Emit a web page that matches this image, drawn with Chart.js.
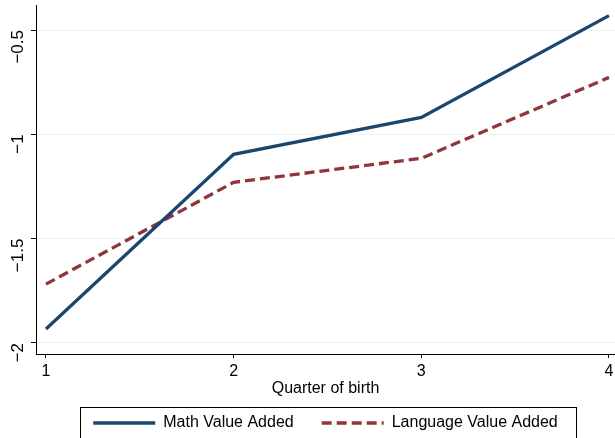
<!DOCTYPE html>
<html>
<head>
<meta charset="utf-8">
<script src="https://cdn.jsdelivr.net/npm/chart.js@4"></script>
<style>
  html, body { margin: 0; padding: 0; background: #fff; }
  #wrap { width: 615px; height: 438px; position: relative; }
</style>
</head>
<body>
<div id="wrap"><canvas id="qob"></canvas></div>
<script>
// quarter of birth on the x axis
const quarters = [1, 2, 3, 4];
const mathVA = [-1.933, -1.096, -0.919, -0.431];
const langVA = [-1.718, -1.230, -1.115, -0.727];
const yTicks = [-2, -1.5, -1, -0.5];

const FONT = 'Liberation Sans, Arial, sans-serif';

function toPoints(ys) {
    return quarters.map((q, i) => ({ x: q, y: ys[i] }));
}

// thin frame around the legend, Stata style
const legendBox = {
    id: 'legendBox',
    afterInit(chart) {
        const lg = chart.legend;
        const fit = lg.fit;
        lg.fit = function () {
            fit.call(this);
            this.height = 51;
        };
    },
    afterDraw(chart) {
        const ctx = chart.ctx;
        ctx.save();
        ctx.strokeStyle = '#000';
        ctx.lineWidth = 1;
        ctx.strokeRect(80.5, 407.5, 496, 40);
        ctx.restore();
    }
};

const config = {
    type: 'line',
    data: {
        datasets: [{
            label: 'Math Value Added',
            data: toPoints(mathVA),
            borderColor: '#1a476f',
            backgroundColor: '#1a476f',
            borderWidth: 3.3,
            pointRadius: 0
        }, {
            label: 'Language Value Added',
            data: toPoints(langVA),
            borderColor: '#90353b',
            backgroundColor: '#90353b',
            borderWidth: 3.3,
            borderDash: [10, 5],
            pointRadius: 0
        }]
    },
    options: {
        responsive: true,
        maintainAspectRatio: false,
        animation: false,
        layout: { padding: { top: 5, right: 0, left: 0, bottom: 0 } },
        plugins: {
            tooltip: { enabled: false },
            legend: {
                position: 'bottom',
                fullSize: false,
                labels: {
                    usePointStyle: true,
                    pointStyle: 'line',
                    pointStyleWidth: 62,
                    boxHeight: 16,
                    padding: 28,
                    color: '#000',
                    font: { family: FONT, size: 16 },
                    generateLabels: (chart) =>
                        Chart.defaults.plugins.legend.labels.generateLabels(chart).map(item => {
                            const ds = chart.data.datasets[item.datasetIndex];
                            item.lineDash = ds.borderDash || [];
                            item.lineWidth = 3.3;
                            item.strokeStyle = ds.borderColor;
                            return item;
                        })
                }
            }
        },
        scales: {
            x: {
                type: 'linear',
                min: 0.947,
                max: 4.032,
                afterBuildTicks: (axis) => { axis.ticks = quarters.map(v => ({ value: v })); },
                afterFit: (axis) => { axis.height = 33; axis.paddingLeft = 0; axis.paddingRight = 0; },
                border: { color: '#000', width: 1 },
                grid: { drawOnChartArea: false, tickLength: 4, tickColor: '#000' },
                ticks: { color: '#000', font: { family: FONT, size: 16 }, padding: 4, maxRotation: 0 },
                title: {
                    display: true,
                    text: 'Quarter of birth',
                    color: '#000',
                    font: { family: FONT, size: 16 },
                    padding: { top: 0, bottom: -11.6 }
                }
            },
            y: {
                min: -2.053,
                max: -0.38,
                afterBuildTicks: (axis) => { axis.ticks = yTicks.map(v => ({ value: v })); },
                afterFit: (axis) => { axis.width = 36; axis.paddingTop = 0; axis.paddingBottom = 0; },
                border: { color: '#000', width: 1 },
                grid: { color: '#eaf2f3', lineWidth: 1, tickLength: 5, tickColor: '#000' },
                ticks: {
                    color: '#000',
                    font: { family: FONT, size: 17 },
                    padding: 13,
                    minRotation: 90,
                    maxRotation: 90,
                    callback: (v) => String(v).replace('-', '\u2212')
                }
            }
        }
    },
    plugins: [legendBox]
};

new Chart(document.getElementById('qob'), config);
</script>
</body>
</html>
